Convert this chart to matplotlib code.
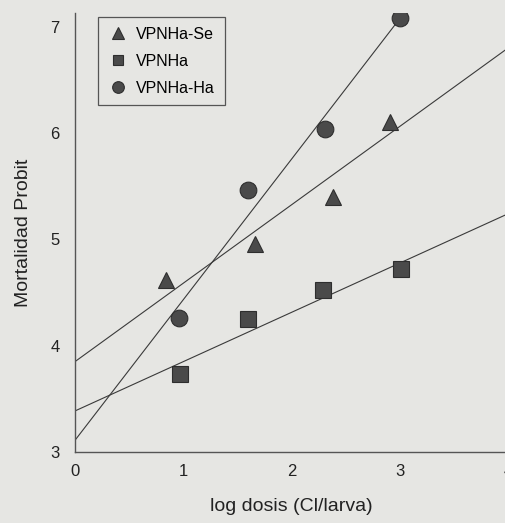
import matplotlib
matplotlib.use('Agg')
from matplotlib import pyplot as plt

# data
x_se = [0.84, 1.665, 2.38, 2.91]
y_se = [4.62, 4.96, 5.40, 6.10]
x_ha = [0.966, 1.60, 2.29, 3.01]
y_ha = [3.73, 4.25, 4.52, 4.72]
x_haha = [0.957, 1.60, 2.31, 3.0]
y_haha = [4.26, 5.46, 6.04, 7.08]

# fitted probit lines (intercept, slope)
fit_se = (3.85, 0.738)
fit_ha = (3.386, 0.464)
fit_haha = (3.11, 1.323)

bg = '#e6e6e3'
ink = '#3a3a3a'
plt.rcParams['font.family'] = ['Liberation Sans', 'DejaVu Sans']

fig = plt.figure(figsize=(5.05, 5.23), dpi=100, facecolor=bg)
ax = fig.add_axes([0.1485, 0.1358, 0.858, 0.8394])
ax.set_facecolor(bg)

# regression lines
ax.axline((0, fit_se[0]), slope=fit_se[1], color=ink, lw=0.8, zorder=1)
ax.axline((0, fit_ha[0]), slope=fit_ha[1], color=ink, lw=0.8, zorder=1)
xe = max(x_haha)
ax.plot([0, xe], [fit_haha[0], fit_haha[0] + fit_haha[1] * xe], color=ink, lw=0.8, zorder=1)

ax.plot(x_se, y_se, '^', ms=12, color='#4a4a4a', mec='#2e2e2e', mew=0.8,
        ls='none', label='VPNHa-Se', zorder=3)
ax.plot(x_ha, y_ha, 's', ms=11, color='#4a4a4a', mec='#2e2e2e', mew=0.8,
        ls='none', label='VPNHa', zorder=3)
ax.plot(x_haha, y_haha, 'o', ms=12, color='#4a4a4a', mec='#2e2e2e', mew=0.8,
        ls='none', label='VPNHa-Ha', zorder=3)

ax.set_xlim(0, 4)
ax.set_ylim(3, 7.13)
ax.set_xticks([0, 1, 2, 3, 4])
ax.set_yticks([3, 4, 5, 6, 7])
ax.tick_params(length=0, labelsize=12, colors='#222222')
ax.tick_params(axis='x', pad=9)
ax.tick_params(axis='y', pad=11)
for s in ['top', 'right']:
    ax.spines[s].set_visible(False)
for s in ['left', 'bottom']:
    ax.spines[s].set_color('#555555')
    ax.spines[s].set_linewidth(1.0)

ax.set_xlabel('log dosis (Cl/larva)', fontsize=14, color='#222222', labelpad=13)
ax.set_ylabel('Mortalidad Probit', fontsize=14, color='#222222', labelpad=13)

leg = ax.legend(loc='upper left', bbox_to_anchor=(0.053, 0.99), fontsize=11.5,
                markerscale=0.7, frameon=True, fancybox=False, framealpha=1,
                facecolor=bg, edgecolor='#555555', handletextpad=0.5,
                labelspacing=0.75, borderpad=0.6, handlelength=1.3,
                borderaxespad=0)
leg.get_frame().set_linewidth(0.9)

plt.savefig('out.png', dpi=100, facecolor=bg)
plt.close()
